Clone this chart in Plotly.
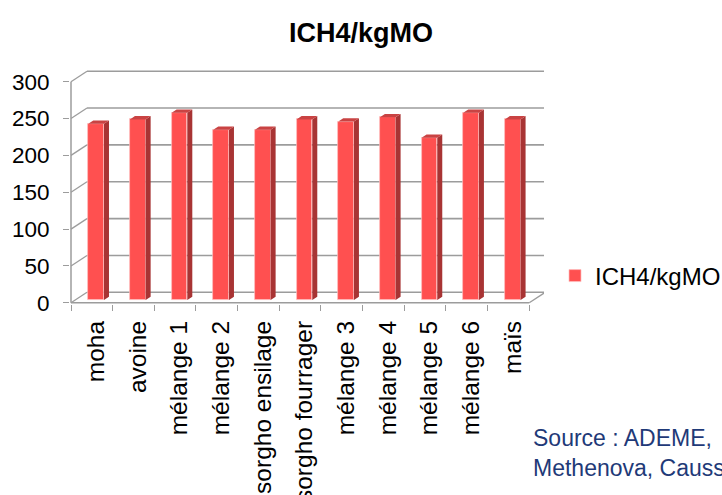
import plotly.graph_objects as go

# ---- data -------------------------------------------------------------
categories = ["moha", "avoine", "mélange 1", "mélange 2", "sorgho ensilage",
              "sorgho fourrager", "mélange 3", "mélange 4", "mélange 5",
              "mélange 6", "maïs"]
ich4_kgmo = [239, 245, 254, 231, 231, 245, 242, 248, 220, 254, 245]
value_ticks = [0, 50, 100, 150, 200, 250, 300]
series_name = "ICH4/kgMO"
source_lines = ["Source : ADEME,", "Methenova, Caussade"]

# ---- geometry (pixels) for the pseudo-3D look -------------------------
W, H = 722, 495
PLOT_L, PLOT_R, PLOT_T, PLOT_B = 70, 544, 70, 304.5
PX_CAT = 41.66          # pixels per category
PX_VAL = 0.7387         # pixels per value unit
WALL_DX, WALL_DY = 16.0, 10.5          # depth offset of the back wall
BAR_SHIFT_DX, BAR_SHIFT_DY = 4.3, 2.8  # front face of bars inside the floor
BAR_DX, BAR_DY = 5.0, 3.3              # visible depth of each bar
BAR_W = 15.7

n = len(categories)
x_lo = -0.5 - (71 - PLOT_L) / PX_CAT
x_hi = x_lo + (PLOT_R - PLOT_L) / PX_CAT
y_lo = -(PLOT_B - 303.3) / PX_VAL
y_hi = y_lo + (PLOT_B - PLOT_T) / PX_VAL

wdx, wdy = WALL_DX / PX_CAT, WALL_DY / PX_VAL
sdx, sdy = BAR_SHIFT_DX / PX_CAT, BAR_SHIFT_DY / PX_VAL
bdx, bdy = BAR_DX / PX_CAT, BAR_DY / PX_VAL
bw = BAR_W / PX_CAT

FRONT = "#ff5050"
SIDE = "#a83434"
TOP = "#c94343"
GRID = "#9c9c9c"

xs = list(range(n))
fig = go.Figure()

# front faces of the columns
fig.add_trace(go.Bar(
    x=[i + sdx for i in xs], y=ich4_kgmo, base=sdy, width=bw,
    marker=dict(color=FRONT, line=dict(color="rgba(255,190,190,0.9)", width=0.8)),
    name=series_name, showlegend=True, hoverinfo="skip",
))

# side and top faces of the columns
side_x, side_y, top_x, top_y = [], [], [], []
for i, v in zip(xs, ich4_kgmo):
    xl = i + sdx - bw / 2
    xr = i + sdx + bw / 2
    yb = sdy
    yt = sdy + v
    side_x += [xr, xr + bdx, xr + bdx, xr, xr, None]
    side_y += [yb, yb + bdy, yt + bdy, yt, yb, None]
    top_x += [xl, xl + bdx, xr + bdx, xr, xl, None]
    top_y += [yt, yt + bdy, yt + bdy, yt, yt, None]

fig.add_trace(go.Scatter(x=side_x, y=side_y, fill="toself", fillcolor=SIDE,
                         mode="lines", line=dict(width=0), showlegend=False,
                         hoverinfo="skip"))
fig.add_trace(go.Scatter(x=top_x, y=top_y, fill="toself", fillcolor=TOP,
                         mode="lines", line=dict(width=0), showlegend=False,
                         hoverinfo="skip"))

# back wall gridlines, side wall diagonals and floor
shapes = []
for v in value_ticks:
    shapes.append(dict(type="line", xref="x", yref="y", layer="below",
                       x0=-0.5 + wdx, x1=n - 0.5 + wdx, y0=v + wdy, y1=v + wdy,
                       line=dict(color=GRID, width=1.6)))
    shapes.append(dict(type="line", xref="x", yref="y", layer="below",
                       x0=-0.5, x1=-0.5 + wdx, y0=v, y1=v + wdy,
                       line=dict(color=GRID, width=1.3)))
# front edge of the floor and its right diagonal
shapes.append(dict(type="line", xref="x", yref="y", layer="below",
                   x0=-0.5, x1=n - 0.5, y0=0, y1=0,
                   line=dict(color=GRID, width=1.5)))
shapes.append(dict(type="line", xref="x", yref="y", layer="below",
                   x0=n - 0.5, x1=n - 0.5 + wdx, y0=0, y1=wdy,
                   line=dict(color=GRID, width=1.3)))
# value axis line
shapes.append(dict(type="line", xref="x", yref="y", layer="below",
                   x0=-0.5, x1=-0.5, y0=0, y1=value_ticks[-1],
                   line=dict(color=GRID, width=1.5)))

font_family = "Liberation Sans, Arial, sans-serif"

fig.update_layout(
    width=W, height=H,
    margin=dict(l=PLOT_L, r=W - PLOT_R, t=PLOT_T, b=H - PLOT_B,
                autoexpand=False),
    paper_bgcolor="white", plot_bgcolor="white",
    font=dict(family=font_family, color="black", size=22),
    title=dict(text=series_name, x=0.5, xref="container", xanchor="center",
               y=1 - 33 / H, yref="container", yanchor="middle",
               font=dict(size=27, weight="bold", color="black")),
    shapes=shapes,
    bargap=0,
    showlegend=True,
    legend=dict(xref="container", yref="container", x=555 / W, y=1 - 276 / H,
                xanchor="left", yanchor="middle", bgcolor="rgba(0,0,0,0)",
                font=dict(size=24, color="black"), itemwidth=30),
    xaxis=dict(range=[x_lo, x_hi], tickmode="array",
               tickvals=[i + sdx for i in xs],
               ticktext=categories, tickangle=-90, ticks="",
               ticklabelstandoff=11, showgrid=False, zeroline=False,
               showline=False, fixedrange=True, automargin=False,
               tickfont=dict(size=24.5, color="black"),
               minor=dict(tickmode="array",
                          tickvals=[i - 0.5 for i in range(n + 1)],
                          ticks="outside", ticklen=6, tickwidth=1.3,
                          tickcolor=GRID, showgrid=False)),
    yaxis=dict(range=[y_lo, y_hi], tickmode="array", tickvals=value_ticks,
               ticks="outside", ticklen=6, tickwidth=1.3, tickcolor=GRID,
               ticklabelstandoff=9, showgrid=False, zeroline=False,
               showline=False, fixedrange=True, automargin=False,
               tickfont=dict(size=22.5, color="black")),
    annotations=[dict(text="<br>".join(source_lines),
                      xref="paper", yref="paper",
                      x=(531 - PLOT_L) / (PLOT_R - PLOT_L),
                      y=(PLOT_B - 454) / (PLOT_B - PLOT_T),
                      xanchor="left", yanchor="middle", align="left",
                      showarrow=False,
                      font=dict(size=23, color="#1f3a78"))],
)

fig.write_html("out.html")
